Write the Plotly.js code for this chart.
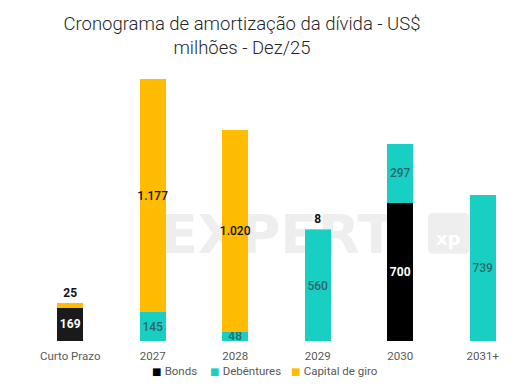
<!DOCTYPE html>
<html>
<head>
<meta charset="utf-8">
<script src="https://cdn.plot.ly/plotly-3.0.1.min.js"></script>
<style>html,body{margin:0;padding:0;background:#fff;}#chart{width:529px;height:386px;}</style>
</head>
<body>
<div id="chart"></div>
<script>
const categories = ['Curto Prazo', '2027', '2028', '2029', '2030', '2031+'];
const seriesNames = ['Bonds', 'Debêntures', 'Capital de giro'];
const bonds = [169, 0, 0, 0, 700, 0];
const debentures = [0, 145, 48, 560, 297, 739];
const capitalGiro = [25, 1177, 1020, 8, 0, 0];

const colors = ['#000000', '#19cfc4', '#ffbc00'];

function fmt(v) {
  if (!v) return '';
  return v.toLocaleString('de-DE');
}
const nz = a => a.map(v => v === 0 ? null : v);

const font = 'Roboto, "Open Sans", sans-serif';

const common = {
  type: 'bar', x: categories, hoverinfo: 'skip', cliponaxis: false,
  textangle: 0, constraintext: 'none', insidetextanchor: 'middle', showlegend: false
};

const traces = [
  Object.assign({}, common, {
    name: seriesNames[0], y: nz(bonds),
    marker: {color: bonds.map((v, i) => i === 0 ? '#1a1a1a' : colors[0])},
    text: bonds.map(fmt), textposition: 'inside',
    textfont: {family: font, size: 12, color: '#ffffff', weight: 700}
  }),
  Object.assign({}, common, {
    name: seriesNames[1], y: nz(debentures),
    marker: {color: colors[1]},
    text: debentures.map(fmt), textposition: 'inside',
    textfont: {family: font, size: 12, color: '#2a6966', weight: 500}
  }),
  Object.assign({}, common, {
    name: seriesNames[2], y: nz(capitalGiro),
    marker: {color: colors[2]},
    text: capitalGiro.map(fmt),
    textposition: capitalGiro.map(v => v < 100 ? 'outside' : 'inside'),
    textfont: {family: font, size: 12, color: '#111', weight: 500},
    outsidetextfont: {family: font, size: 12, color: '#111', weight: 700}
  })
];

const wm = 'data:image/svg+xml;utf8,' + encodeURIComponent(
  '<svg xmlns="http://www.w3.org/2000/svg" width="310" height="43" viewBox="0 0 310 43">' +
  '<text x="0" y="41" font-family="DejaVu Sans" font-weight="bold" font-size="54" fill="#eeeeee" textLength="235" lengthAdjust="spacingAndGlyphs">EXPERT</text>' +
  '<rect x="268" y="1" width="42" height="41" rx="5" fill="#eeeeee"/>' +
  '<text x="276" y="33" font-family="DejaVu Sans" font-weight="bold" font-size="18" fill="#ffffff">xp</text>' +
  '</svg>');

// legend drawn as annotations (compact Excel-style legend)
const plotL = 29, plotW = 495, plotB = 341, plotH = 277;
const legendX = [150, 208, 289];
const legendY = 371;
const legendAnn = seriesNames.map((n, i) => ({
  xref: 'paper', yref: 'paper',
  x: (legendX[i] - plotL) / plotW, y: (plotB - legendY) / plotH,
  xanchor: 'left', yanchor: 'middle', showarrow: false,
  text: '<span style="color:' + colors[i] + ';font-family:DejaVu Sans;font-size:10px">■&nbsp;</span>' + n,
  font: {family: font, size: 11.5, color: '#595959'}
}));

const layout = {
  width: 529, height: 386,
  margin: {l: plotL, r: 5, t: 64, b: 45, autoexpand: false},
  paper_bgcolor: '#ffffff', plot_bgcolor: '#ffffff',
  barmode: 'stack', bargap: 0.68,
  showlegend: false,
  title: {
    text: 'Cronograma de amortização da dívida - US$<br>milhões - Dez/25',
    x: 242 / 529, xanchor: 'center', yref: 'container', y: 1 - 30 / 386, yanchor: 'middle',
    font: {family: font, size: 18.5, color: '#262626', weight: 300}
  },
  xaxis: {
    type: 'category', showgrid: false, zeroline: false, showline: false,
    tickfont: {family: font, size: 11.5, color: '#595959'}, ticks: '', ticklen: 0,
    ticklabelstandoff: 6
  },
  yaxis: {
    range: [0, 1400], visible: false, showgrid: false, zeroline: false, fixedrange: true
  },
  annotations: legendAnn,
  images: [{
    source: wm, xref: 'paper', yref: 'paper', x: 0.265, y: 0.466,
    sizex: 0.626, sizey: 0.155, xanchor: 'left', yanchor: 'top', layer: 'below', sizing: 'contain'
  }]
};

Plotly.newPlot('chart', traces, layout, {displayModeBar: false, staticPlot: true});
</script>
</body>
</html>
